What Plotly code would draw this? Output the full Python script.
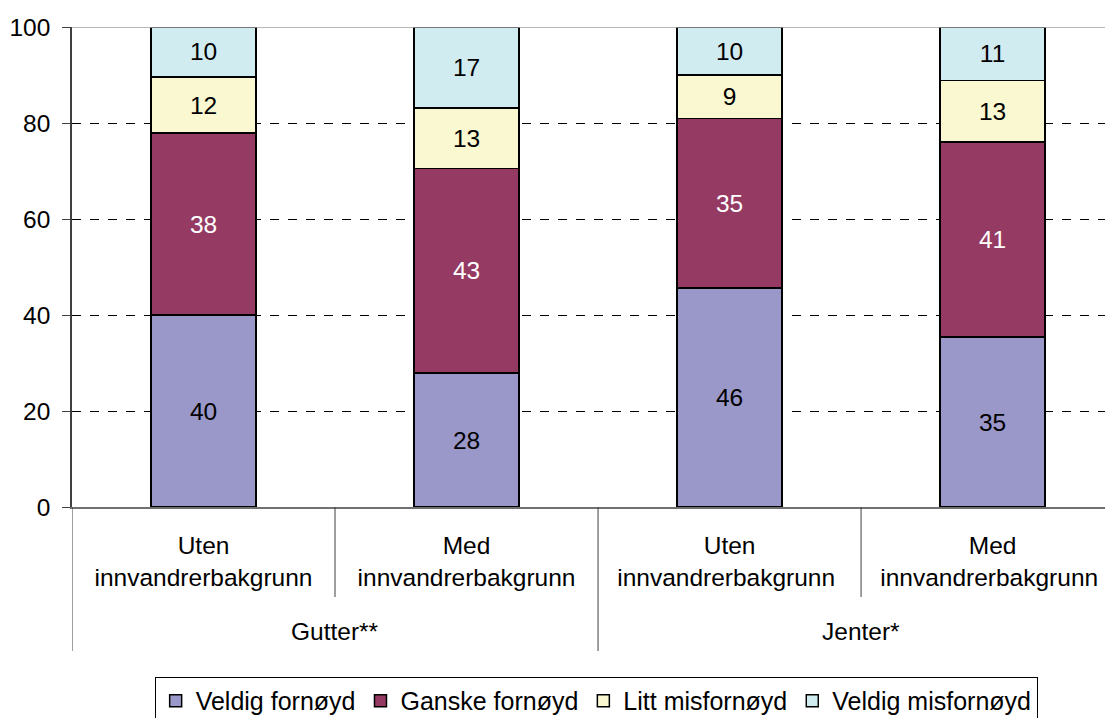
import plotly.graph_objects as go

categories = ["Uten<br>innvandrerbakgrunn", "Med<br>innvandrerbakgrunn",
              "Uten<br>innvandrerbakgrunn ", "Med<br>innvandrerbakgrunn "]
groups = ["Gutter**", "Jenter*"]
series_names = ["Veldig fornøyd", "Ganske fornøyd", "Litt misfornøyd", "Veldig misfornøyd"]
veldig_fornoyd = [40.0, 27.9, 45.6, 35.4]
ganske_fornoyd = [37.9, 42.6, 35.3, 40.6]
litt_misfornoyd = [11.7, 12.6, 9.1, 12.9]
veldig_misfornoyd = [10.4, 16.9, 10.0, 11.1]
y_ticks = [0, 20, 40, 60, 80, 100]

colors = ["#9A98C8", "#953A62", "#FAF8D0", "#D0ECF0"]
text_colors = ["black", "white", "black", "black"]
FONT = "Liberation Sans, Arial, sans-serif"
FS = 24.5

fig = go.Figure()
for name, vals, col, tcol in zip(series_names,
                                 [veldig_fornoyd, ganske_fornoyd, litt_misfornoyd, veldig_misfornoyd],
                                 colors, text_colors):
    fig.add_trace(go.Bar(
        x=categories, y=vals, name=name, width=0.4,
        marker=dict(color=col, line=dict(color="black", width=1.5)),
        texttemplate="%{y:.0f}", textposition="inside", insidetextanchor="middle",
        textangle=0, textfont=dict(color=tcol, size=FS, family=FONT),
        hoverinfo="skip",
    ))

shapes = []
shapes.append(dict(type="line", xref="paper", yref="y", x0=0, x1=1, y0=100, y1=100,
                   line=dict(color="#A0A0A0", width=1.5), layer="above"))
for xpos, ybot in [(-0.5, -0.3), (0.5, -0.1875), (1.5, -0.3), (2.5, -0.1875)]:
    shapes.append(dict(type="line", xref="x", yref="paper", x0=xpos, x1=xpos, y0=0, y1=ybot,
                       line=dict(color="#404040", width=1)))

annotations = []
for xpos, g in zip([0.5, 2.5], groups):
    annotations.append(dict(text=g, x=xpos, xref="x", y=-0.26, yref="paper",
                            showarrow=False, xanchor="center", yanchor="middle",
                            font=dict(size=FS, color="black", family=FONT)))

fig.update_layout(
    barmode="stack",
    width=1105, height=710,
    margin=dict(l=64, r=1, t=19, b=211, autoexpand=False),
    plot_bgcolor="white", paper_bgcolor="white",
    font=dict(family=FONT, size=FS, color="black"),
    shapes=shapes, annotations=annotations,
    legend=dict(orientation="h", x=0.504, xanchor="center", y=-0.354, yanchor="top",
                bordercolor="black", borderwidth=1, font=dict(size=25, family=FONT),
                traceorder="normal", itemclick=False, itemdoubleclick=False,
                tracegroupgap=0, itemwidth=30),
    showlegend=True,
)
fig.update_xaxes(
    type="category", range=[-0.5, 3.454], showline=True, linecolor="#707070", linewidth=1.5,
    showgrid=False, zeroline=False, ticks="", automargin=False, ticklabelstandoff=16,
    tickfont=dict(size=FS, family=FONT, color="black"),
)
fig.update_yaxes(
    range=[0, 100], tickvals=y_ticks, showline=True, linecolor="#404040", linewidth=1.5,
    ticks="outside", ticklen=8, tickcolor="#404040", showgrid=True, gridcolor="black",
    griddash="dash", gridwidth=1, zeroline=False, automargin=False, ticklabelstandoff=7,
    tickfont=dict(size=FS, family=FONT, color="black"),
)

fig.write_html("out.html")
